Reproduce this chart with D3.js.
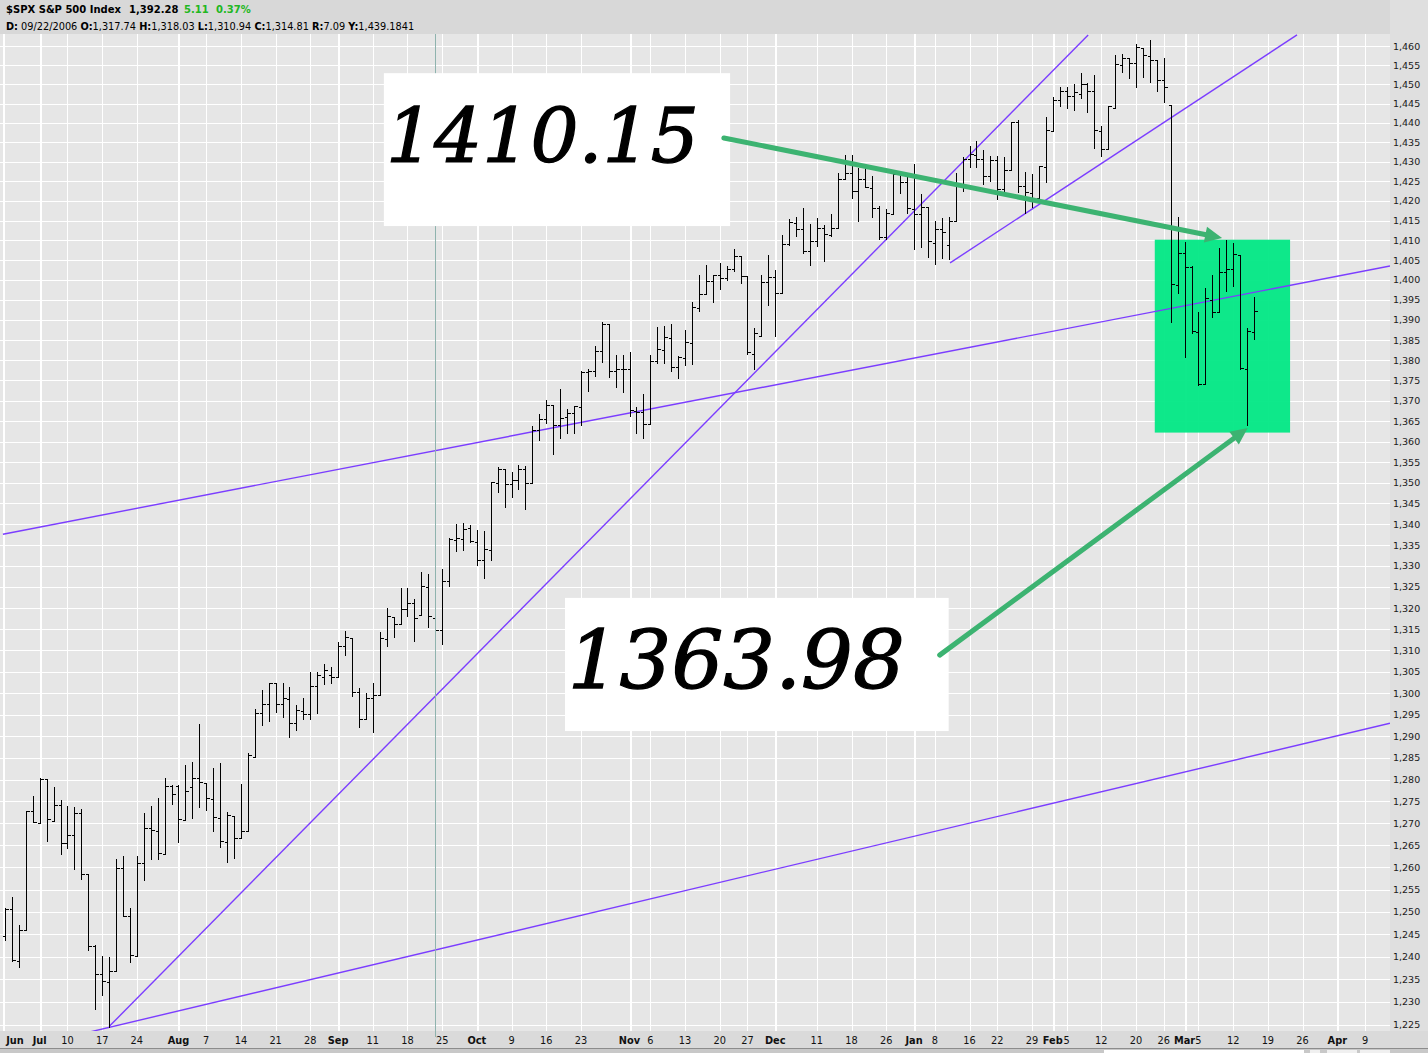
<!DOCTYPE html>
<html><head><meta charset="utf-8">
<script src="https://cdn.jsdelivr.net/npm/d3@7"></script>
<style>html,body{margin:0;padding:0;background:#fff;overflow:hidden}</style>
</head><body><svg id="c" width="1428" height="1053"></svg>
<script>
// ---------------- DATA ----------------
const dates = ["2006-06-26","2006-06-27","2006-06-28","2006-06-29","2006-06-30",
"2006-07-03","2006-07-05","2006-07-06","2006-07-07","2006-07-10","2006-07-11","2006-07-12","2006-07-13","2006-07-14","2006-07-17","2006-07-18","2006-07-19","2006-07-20","2006-07-21","2006-07-24","2006-07-25","2006-07-26","2006-07-27","2006-07-28","2006-07-31",
"2006-08-01","2006-08-02","2006-08-03","2006-08-04","2006-08-07","2006-08-08","2006-08-09","2006-08-10","2006-08-11","2006-08-14","2006-08-15","2006-08-16","2006-08-17","2006-08-18","2006-08-21","2006-08-22","2006-08-23","2006-08-24","2006-08-25","2006-08-28","2006-08-29","2006-08-30","2006-08-31",
"2006-09-01","2006-09-05","2006-09-06","2006-09-07","2006-09-08","2006-09-11","2006-09-12","2006-09-13","2006-09-14","2006-09-15","2006-09-18","2006-09-19","2006-09-20","2006-09-21","2006-09-22","2006-09-25","2006-09-26","2006-09-27","2006-09-28","2006-09-29",
"2006-10-02","2006-10-03","2006-10-04","2006-10-05","2006-10-06","2006-10-09","2006-10-10","2006-10-11","2006-10-12","2006-10-13","2006-10-16","2006-10-17","2006-10-18","2006-10-19","2006-10-20","2006-10-23","2006-10-24","2006-10-25","2006-10-26","2006-10-27","2006-10-30","2006-10-31",
"2006-11-01","2006-11-02","2006-11-03","2006-11-06","2006-11-07","2006-11-08","2006-11-09","2006-11-10","2006-11-13","2006-11-14","2006-11-15","2006-11-16","2006-11-17","2006-11-20","2006-11-21","2006-11-22","2006-11-24","2006-11-27","2006-11-28","2006-11-29","2006-11-30",
"2006-12-01","2006-12-04","2006-12-05","2006-12-06","2006-12-07","2006-12-08","2006-12-11","2006-12-12","2006-12-13","2006-12-14","2006-12-15","2006-12-18","2006-12-19","2006-12-20","2006-12-21","2006-12-22","2006-12-26","2006-12-27","2006-12-28","2006-12-29",
"2007-01-03","2007-01-04","2007-01-05","2007-01-08","2007-01-09","2007-01-10","2007-01-11","2007-01-12","2007-01-16","2007-01-17","2007-01-18","2007-01-19","2007-01-22","2007-01-23","2007-01-24","2007-01-25","2007-01-26","2007-01-29","2007-01-30","2007-01-31",
"2007-02-01","2007-02-02","2007-02-05","2007-02-06","2007-02-07","2007-02-08","2007-02-09","2007-02-12","2007-02-13","2007-02-14","2007-02-15","2007-02-16","2007-02-20","2007-02-21","2007-02-22","2007-02-23","2007-02-26","2007-02-27","2007-02-28",
"2007-03-01","2007-03-02","2007-03-05","2007-03-06","2007-03-07","2007-03-08","2007-03-09","2007-03-12","2007-03-13","2007-03-14","2007-03-15"];

const opens = [1244.50,1250.55,1238.99,1245.94,1272.86,
1270.06,1280.05,1270.58,1274.08,1265.46,1267.26,1272.39,1258.58,1242.29,1236.20,1234.48,1236.74,1259.81,1249.12,1240.25,1260.91,1268.87,1268.20,1263.15,1278.53,
1278.53,1270.73,1278.22,1280.26,1279.31,1275.67,1271.13,1265.72,1271.64,1266.67,1268.19,1285.27,1295.37,1297.48,1302.30,1297.52,1298.73,1292.97,1295.92,1295.09,1301.57,1303.70,1304.25,
1303.80,1310.94,1313.04,1300.21,1294.02,1298.86,1299.53,1312.74,1318.00,1316.28,1319.85,1321.17,1318.28,1324.89,1317.74,1314.78,1326.35,1336.12,1336.56,1339.15,
1335.82,1331.32,1333.81,1349.84,1353.22,1349.58,1350.62,1353.28,1349.94,1362.82,1365.61,1369.05,1364.03,1365.95,1366.94,1368.58,1377.02,1377.36,1382.21,1388.89,1377.30,1377.93,
1377.76,1367.44,1367.31,1364.27,1379.75,1382.50,1385.43,1378.33,1380.58,1384.36,1392.91,1396.53,1399.76,1401.17,1400.43,1402.69,1405.94,1400.95,1381.61,1386.11,1399.47,
1400.63,1396.67,1409.10,1414.40,1412.86,1407.27,1409.81,1413.00,1411.32,1413.16,1425.48,1427.08,1422.42,1425.51,1423.20,1418.10,1410.75,1416.63,1426.77,1424.71,
1418.03,1416.60,1418.34,1409.26,1412.84,1408.70,1414.84,1423.82,1430.73,1431.77,1430.59,1426.35,1430.47,1422.95,1427.96,1440.12,1423.90,1422.03,1420.61,1428.65,
1437.90,1445.94,1448.33,1446.98,1447.41,1449.99,1448.25,1438.00,1433.22,1443.91,1455.15,1456.77,1455.53,1459.60,1457.29,1456.22,1451.04,1444.60,1398.64,
1406.80,1403.16,1387.11,1374.06,1395.02,1391.88,1401.89,1402.80,1406.23,1377.86,1387.11];

const highs = [1250.92,1253.37,1247.06,1272.88,1276.30,
1280.38,1280.05,1278.32,1275.38,1274.06,1273.64,1273.31,1258.58,1242.70,1240.07,1239.86,1261.81,1262.56,1250.96,1262.50,1272.39,1273.89,1275.85,1280.42,1278.66,
1278.66,1283.42,1283.96,1292.92,1279.31,1282.75,1283.74,1272.55,1271.64,1278.90,1286.23,1296.21,1300.78,1302.30,1302.30,1302.49,1301.50,1297.23,1298.88,1305.02,1305.02,1306.74,1306.11,
1312.03,1314.67,1313.04,1301.25,1300.14,1302.36,1314.28,1319.92,1318.00,1324.65,1324.87,1322.04,1328.53,1328.19,1318.03,1329.35,1336.60,1340.08,1340.28,1339.88,
1338.54,1338.31,1350.20,1353.79,1353.22,1352.69,1354.23,1353.97,1363.76,1366.63,1370.20,1369.05,1372.87,1368.09,1368.66,1377.40,1377.78,1383.61,1389.45,1388.89,1381.22,1381.21,
1381.95,1368.39,1371.68,1381.40,1388.19,1388.61,1388.92,1381.04,1387.61,1394.49,1401.35,1403.76,1401.21,1404.37,1403.49,1407.89,1405.94,1400.95,1387.91,1401.14,1406.30,
1402.46,1411.23,1415.27,1415.93,1418.27,1414.09,1415.60,1413.78,1416.64,1427.23,1431.63,1431.81,1428.30,1429.05,1426.40,1418.82,1417.91,1427.72,1427.26,1427.00,
1429.42,1421.84,1418.34,1414.98,1415.61,1415.99,1427.12,1431.23,1433.93,1435.27,1432.96,1431.57,1431.39,1431.33,1440.14,1440.69,1427.27,1426.94,1428.82,1441.61,
1446.64,1449.33,1449.38,1450.19,1452.99,1450.45,1452.45,1439.11,1444.41,1457.65,1457.97,1456.77,1460.53,1459.60,1461.57,1456.22,1456.95,1444.60,1415.89,
1409.46,1403.40,1391.86,1397.90,1401.16,1407.93,1410.15,1409.34,1406.23,1388.09,1395.73];

const lows = [1243.68,1238.94,1237.59,1245.94,1270.20,
1270.06,1265.91,1270.58,1263.13,1264.46,1259.65,1257.29,1241.43,1228.45,1231.49,1224.54,1236.74,1249.13,1238.72,1240.25,1257.19,1261.94,1261.92,1263.15,1274.31,
1265.71,1270.73,1271.25,1273.82,1273.00,1268.37,1264.73,1261.30,1262.08,1266.67,1268.19,1285.27,1292.71,1293.57,1295.51,1294.44,1289.82,1291.40,1293.97,1293.97,1295.29,1302.15,1302.45,
1303.80,1308.82,1299.28,1292.13,1294.02,1290.93,1299.53,1311.12,1313.25,1316.28,1318.16,1312.17,1318.28,1315.45,1310.94,1311.58,1325.30,1333.54,1333.75,1335.64,
1330.28,1327.10,1331.48,1347.75,1344.21,1346.55,1348.60,1343.57,1349.94,1360.50,1364.48,1356.87,1360.96,1362.06,1362.10,1363.94,1372.42,1376.00,1379.47,1375.85,1373.46,1372.19,
1366.26,1362.21,1360.98,1364.27,1379.19,1379.33,1377.31,1375.60,1378.80,1379.07,1392.13,1396.53,1394.55,1397.85,1399.99,1402.26,1399.25,1381.44,1377.83,1386.11,1393.83,
1385.93,1396.67,1408.78,1411.05,1406.80,1403.67,1408.56,1404.75,1411.05,1413.16,1425.48,1420.65,1414.88,1423.51,1415.90,1410.28,1410.45,1416.63,1422.05,1416.84,
1407.86,1408.43,1405.75,1403.97,1405.42,1405.32,1414.84,1422.58,1428.62,1428.57,1424.21,1425.19,1420.40,1421.66,1427.96,1422.34,1416.96,1418.46,1420.61,1424.78,
1437.90,1444.49,1443.85,1443.40,1446.44,1442.81,1433.44,1431.44,1433.22,1443.91,1453.19,1451.57,1449.20,1452.02,1450.51,1448.36,1445.48,1389.42,1396.65,
1380.87,1386.87,1373.97,1374.06,1390.64,1391.88,1397.30,1398.40,1377.71,1363.98,1385.16];

const closes = [1250.56,1239.20,1246.00,1272.87,1270.20,
1280.19,1270.91,1274.08,1265.48,1267.34,1272.43,1258.60,1242.29,1236.20,1234.49,1236.86,1259.81,1249.13,1240.29,1260.91,1268.88,1268.40,1263.20,1278.55,1276.66,
1270.92,1277.41,1280.27,1279.36,1275.77,1271.48,1265.95,1271.81,1266.74,1268.21,1285.58,1295.43,1297.48,1302.30,1297.52,1298.82,1292.99,1296.06,1295.09,1301.78,1304.28,1305.37,1303.82,
1311.01,1313.25,1300.26,1294.02,1298.92,1299.54,1313.00,1318.07,1316.28,1319.66,1321.18,1317.64,1325.18,1318.03,1314.81,1326.37,1336.35,1336.59,1338.88,1335.85,
1331.32,1334.11,1350.20,1353.22,1349.59,1350.66,1353.42,1349.95,1362.83,1365.62,1369.06,1364.05,1365.80,1366.96,1368.60,1377.02,1377.38,1382.22,1389.08,1377.34,1377.93,1377.94,
1367.81,1367.34,1364.30,1379.78,1382.84,1385.72,1378.33,1380.90,1384.42,1393.22,1396.57,1399.76,1401.20,1400.50,1402.81,1406.09,1400.95,1381.96,1386.72,1399.48,1400.63,
1396.71,1409.12,1414.76,1412.90,1407.29,1409.84,1413.04,1411.56,1413.21,1425.49,1427.09,1422.48,1425.55,1423.53,1418.30,1410.76,1416.90,1426.84,1424.73,1418.30,
1416.60,1418.34,1409.71,1412.84,1412.11,1414.85,1423.82,1430.73,1431.90,1430.62,1426.37,1430.50,1422.95,1427.99,1440.13,1423.90,1422.18,1420.62,1428.82,1438.24,
1445.94,1448.39,1446.99,1448.00,1450.02,1448.31,1438.06,1433.37,1444.26,1455.30,1456.81,1455.54,1459.68,1457.63,1456.38,1451.19,1449.37,1399.04,1406.82,
1403.17,1387.17,1374.12,1395.41,1391.97,1401.89,1402.84,1406.60,1377.95,1387.17,1392.28];

// trading days after the last bar (axis room), Good Friday 2007-04-06 closed
const futureDates = ["2007-03-16","2007-03-19","2007-03-20","2007-03-21","2007-03-22","2007-03-23","2007-03-26","2007-03-27","2007-03-28","2007-03-29","2007-03-30","2007-04-02","2007-04-03","2007-04-04","2007-04-05","2007-04-09","2007-04-10","2007-04-11"];

const tickDates = ["2006-06-26","2006-07-03","2006-07-10","2006-07-17","2006-07-24","2006-08-01","2006-08-07","2006-08-14","2006-08-21","2006-08-28","2006-09-01","2006-09-11","2006-09-18","2006-09-25","2006-10-02","2006-10-09","2006-10-16","2006-10-23","2006-11-01","2006-11-06","2006-11-13","2006-11-20","2006-11-27","2006-12-01","2006-12-11","2006-12-18","2006-12-26","2007-01-03","2007-01-08","2007-01-16","2007-01-22","2007-01-29","2007-02-01","2007-02-05","2007-02-12","2007-02-20","2007-02-26","2007-03-01","2007-03-05","2007-03-12","2007-03-19","2007-03-26","2007-04-02","2007-04-09"];
const tickLabels = ["Jun","Jul","10","17","24","Aug","7","14","21","28","Sep","11","18","25","Oct","9","16","23","Nov","6","13","20","27","Dec","11","18","26","Jan","8","16","22","29","Feb","5","12","20","26","Mar","5","12","19","26","Apr","9"];
const tickIsMonth = tickLabels.map(s => /[A-Za-z]/.test(s));

const priceTicks = [1225,1230,1235,1240,1245,1250,1255,1260,1265,1270,1275,1280,1285,1290,1295,1300,1305,1310,1315,1320,1325,1330,1335,1340,1345,1350,1355,1360,1365,1370,1375,1380,1385,1390,1395,1400,1405,1410,1415,1420,1425,1430,1435,1440,1445,1450,1455,1460];

// trendlines: [start index, start price, end index, end price]
const trendLines = [
  [11.5, 1223.1, 199.6, 1293.0],
  [15, 1224.54, 156.1, 1462.9],
  [-0.3, 1337.6, 199.6, 1403.5],
  [136.2, 1404.3, 186.2, 1462.9]
];
// highlighted zone (index range, price range)
const zone = [165.7, 185.2, 1410.15, 1362.2];
// callouts
const calloutLabels = ["1410.15", "1363.98"];
const calloutBoxes = [[54.6,104.5,1452.9,1413.6],[80.7,136.0,1322.4,1291.2]];
const calloutText = [[54.9,1429.9,313],[81.1,1301.2,337]];
const calloutArrows = [[103.6,1436.1,175.4,1410.6],[134.7,1308.9,179.1,1363.3]];
const cursorDate = "2006-09-22";

const header1 = [["$SPX S&P 500 Index","#000"],["1,392.28","#000"],["5.11","#22b722"],["0.37%","#22b722"]];
const header2 = [["D:"," 09/22/2006 "],["O:","1,317.74 "],["H:","1,318.03 "],["L:","1,310.94 "],["C:","1,314.81 "],["R:","7.09 "],["Y:","1,439.1841"]];

// ---------------- CHART ----------------
const svg = d3.select("#c");
const P = {l:0, r:1390, t:34, b:1031};
const allDates = dates.concat(futureDates);
const idxOf = new Map(allDates.map((d,i)=>[d,i]));

const x = d3.scaleLinear().domain([0, dates.length-1]).range([5, 1254]);
const y = d3.scaleLog().domain([1225, 1460]).range([1024.5, 46]);
const px = v => Math.round(x(v)) + 0.5;
const py = v => Math.round(y(v)) + 0.5;

// backgrounds
svg.append("rect").attr("width",1428).attr("height",1053).attr("fill","#d8d8d8");
svg.append("rect").attr("x",1390).attr("y",0).attr("width",38).attr("height",1031).attr("fill","#dfdfdf");
svg.append("rect").attr("x",P.l).attr("y",P.t).attr("width",P.r-P.l).attr("height",P.b-P.t).attr("fill","#e6e6e6");
svg.append("rect").attr("x",0).attr("y",P.b).attr("width",1428).attr("height",18).attr("fill","#dadada");

svg.append("defs").append("clipPath").attr("id","pc")
  .append("rect").attr("x",P.l).attr("y",P.t).attr("width",P.r-P.l).attr("height",P.b-P.t);
const plot = svg.append("g").attr("clip-path","url(#pc)");

// grid
const grid = plot.append("g").attr("shape-rendering","crispEdges").attr("stroke","#fff");
grid.selectAll("line.h").data(priceTicks).join("line").attr("class","h")
  .attr("x1",P.l).attr("x2",P.r).attr("y1",d=>py(d)).attr("y2",d=>py(d)).attr("stroke-width",1);
grid.selectAll("line.v").data(tickDates).join("line").attr("class","v")
  .attr("x1",(d,i)=> i===0 ? 3.5 : px(idxOf.get(d)))
  .attr("x2",(d,i)=> i===0 ? 3.5 : px(idxOf.get(d)))
  .attr("y1",P.t).attr("y2",P.b)
  .attr("stroke-width",(d,i)=> tickIsMonth[i] ? 2 : 1);

// cursor line
const ci = idxOf.get(cursorDate);
svg.append("line").attr("x1",px(ci)).attr("x2",px(ci)).attr("y1",P.t).attr("y2",1037)
  .attr("stroke","#8fb3ae").attr("stroke-width",1).attr("shape-rendering","crispEdges");

// highlight zone
plot.append("rect")
  .attr("x",x(zone[0])).attr("width",x(zone[1])-x(zone[0]))
  .attr("y",y(zone[2])).attr("height",y(zone[3])-y(zone[2]))
  .attr("fill","#00e884").attr("fill-opacity",0.94);

// trendlines
plot.append("g").selectAll("line").data(trendLines).join("line")
  .attr("x1",d=>x(d[0])).attr("y1",d=>y(d[1])).attr("x2",d=>x(d[2])).attr("y2",d=>y(d[3]))
  .attr("stroke","#7b3dff").attr("stroke-width",1.4);

// OHLC bars
const bars = plot.append("g").attr("stroke","#000").attr("stroke-width",1).attr("shape-rendering","crispEdges");
const idx = d3.range(dates.length);
bars.selectAll("line.hl").data(idx).join("line").attr("class","hl")
  .attr("x1",i=>px(i)).attr("x2",i=>px(i)).attr("y1",i=>Math.round(y(highs[i]))).attr("y2",i=>Math.round(y(lows[i]))+1);
bars.selectAll("line.o").data(idx).join("line").attr("class","o")
  .attr("x1",i=>px(i)-3).attr("x2",i=>px(i)).attr("y1",i=>py(opens[i])).attr("y2",i=>py(opens[i]));
bars.selectAll("line.c").data(idx).join("line").attr("class","c")
  .attr("x1",i=>px(i)).attr("x2",i=>px(i)+3).attr("y1",i=>py(closes[i])).attr("y2",i=>py(closes[i]));

// callout boxes & texts
calloutBoxes.forEach((b,k)=>{
  svg.append("rect").attr("x",x(b[0])).attr("y",y(b[2]))
    .attr("width",x(b[1])-x(b[0])).attr("height",y(b[3])-y(b[2])).attr("fill","#fff");
  const t = calloutText[k];
  svg.append("text").attr("x",x(t[0])).attr("y",y(t[1]))
    .attr("font-family","'DejaVu Serif', serif").attr("font-style","italic")
    .attr("font-size", k===0 ? 74 : 80).attr("fill","#000")
    .attr("stroke","#000").attr("stroke-width",1.3)
    .attr("textLength",t[2]).attr("lengthAdjust","spacingAndGlyphs")
    .text(calloutLabels[k]);
});

// arrows
const arrowColor = "#3cb371";
calloutArrows.forEach(a=>{
  const x0=x(a[0]), y0=y(a[1]), x1=x(a[2]), y1=y(a[3]);
  const ang = Math.atan2(y1-y0, x1-x0);
  const L = 17, Wd = 8;
  const bx = x1 - L*Math.cos(ang), by = y1 - L*Math.sin(ang);
  svg.append("line").attr("x1",x0).attr("y1",y0).attr("x2",bx+2*Math.cos(ang)).attr("y2",by+2*Math.sin(ang))
    .attr("stroke",arrowColor).attr("stroke-width",5).attr("stroke-linecap","round");
  const pts = [[x1,y1],[bx - Wd*Math.sin(ang), by + Wd*Math.cos(ang)],[bx + Wd*Math.sin(ang), by - Wd*Math.cos(ang)]];
  svg.append("polygon").attr("points",pts.map(p=>p.join(",")).join(" ")).attr("fill",arrowColor);
});

// right axis labels
const fmt = d3.format(",");
svg.append("g").selectAll("text").data(priceTicks).join("text")
  .attr("x",1393).attr("y",d=>y(d)+3.5)
  .attr("font-family","'DejaVu Sans', sans-serif").attr("font-size",9.5).attr("fill","#1a1a1a")
  .text(d=>fmt(d));

// bottom axis labels
svg.append("g").selectAll("text").data(tickDates).join("text")
  .attr("x",(d,i)=>{
    const cx = x(idxOf.get(d));
    return i===0 ? Math.max(cx, 15) : cx;
  })
  .attr("y",1044).attr("text-anchor","middle")
  .attr("font-family","'DejaVu Sans', sans-serif").attr("font-size",9.8)
  .attr("font-weight",(d,i)=>tickIsMonth[i] ? "bold" : "normal").attr("fill","#111")
  .text((d,i)=>tickLabels[i]);

// bottom scroll strip
svg.append("rect").attr("x",0).attr("y",1049).attr("width",1428).attr("height",4).attr("fill","#c8c8c8");
svg.append("line").attr("x1",0).attr("x2",1428).attr("y1",1048.5).attr("y2",1048.5).attr("stroke","#8c8c8c");
svg.append("rect").attr("x",1104).attr("y",1050).attr("width",200).attr("height",3).attr("fill","#fff");
svg.append("rect").attr("x",1310).attr("y",1050).attr("width",10).attr("height",3).attr("fill","#f0f0f0");
svg.append("rect").attr("x",1327).attr("y",1050).attr("width",30).attr("height",3).attr("fill","#f0f0f0");
svg.append("rect").attr("x",1360).attr("y",1050).attr("width",30).attr("height",3).attr("fill","#f0f0f0");

// header
const h1 = svg.append("text").attr("x",6).attr("y",12.5)
  .attr("font-family","'DejaVu Sans', sans-serif").attr("font-size",10).attr("font-weight","bold");
const h1x = [6,129,184,216];
header1.forEach((s,i)=>{ h1.append("tspan").attr("x",h1x[i]).attr("fill",s[1]).text(s[0]); });
const h2 = svg.append("text").attr("x",6).attr("y",29.5)
  .attr("font-family","'DejaVu Sans', sans-serif").attr("font-size",9.75).attr("fill","#000")
  .attr("xml:space","preserve").style("white-space","pre");
header2.forEach(s=>{
  h2.append("tspan").attr("font-weight","bold").text(s[0]);
  h2.append("tspan").attr("font-weight","normal").text(s[1]);
});
</script>
</body></html>
